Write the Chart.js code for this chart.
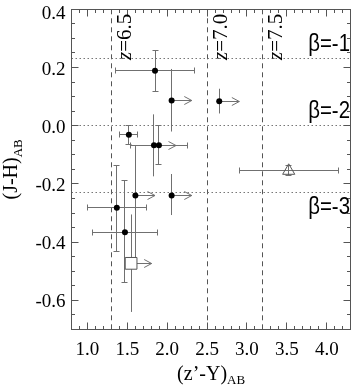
<!DOCTYPE html>
<html><head><meta charset="utf-8">
<script src="https://cdn.jsdelivr.net/npm/chart.js@4.4.0/dist/chart.umd.min.js"></script>
<style>html,body{margin:0;padding:0;background:#fff;}#wrap{width:360px;height:385px;position:relative;}</style>
</head><body><div id="wrap"><canvas id="c" width="360" height="385"></canvas></div>
<script>
// ---- data: filled circles (detections) ----
const detX    = [1.847, 2.055, 1.519, 1.834, 1.896, 1.601, 2.055, 1.368, 1.470, 2.652];
const detY    = [0.189, 0.087, -0.031, -0.067, -0.067, -0.240, -0.240, -0.282, -0.366, 0.084];
const detXLo  = [1.347, null, 1.405, 1.540, null, null, null, 1.000, 1.061, null];
const detXHi  = [2.337, null, 1.633, 2.255, null, null, null, 1.736, 1.879, null];
const detYLo  = [0.116, -0.020, -0.065, -0.174, -0.135, -0.454, -0.307, -0.431, -0.539, 0.042];
const detYHi  = [0.260, 0.195, -0.001, 0.039, -0.001, -0.070, -0.166, -0.138, -0.189, 0.127];
const detLimitTo = [null, 2.308, null, null, 2.11, 1.847, 2.308, null, null, 2.904];
// ---- open square ----
const sqX = [1.547], sqY = [-0.473], sqYLo = [-0.640], sqYHi = [-0.305], sqLimitTo = [1.805];
// ---- open triangle ----
const triX = [3.523], triY = [-0.155], triXLo = [2.902], triXHi = [4.145], triYLo = [-0.172], triYHi = [-0.138];
// ---- reference lines ----
const redshiftX = [1.3, 2.5, 3.2];
const redshiftLabels = ['6.5', '7.0', '7.5'];
const betaY = [0.23, 0.0, -0.23];
const betaLabels = ['β=-1', 'β=-2', 'β=-3'];
// ---- axes ----
const xTicks = [1.0, 1.5, 2.0, 2.5, 3.0, 3.5, 4.0];
const yTicks = [-0.6, -0.4, -0.2, 0.0, 0.2, 0.4];
const xTitle = '(z’-Y)', xTitleSub = 'AB';
const yTitle = '(J-H)', yTitleSub = 'AB';

// style-only settings
const capXIdx = [0, 2, 3, 7, 8];
const capYIdx = [0, 2, 4, 7, 8];
const SERIF = '"Liberation Serif", "Times New Roman", serif';
const SANS = '"Liberation Sans", Arial, sans-serif';
const ERR = '#707070';

function seg(ctx, x1, y1, x2, y2) { ctx.beginPath(); ctx.moveTo(x1, y1); ctx.lineTo(x2, y2); ctx.stroke(); }
const r5 = v => Math.round(v - 0.5) + 0.5;

const overlay = {
  id: 'overlay',
  beforeDatasetsDraw(chart) {
    const { ctx, chartArea: a, scales: { x, y } } = chart;
    const X = v => x.getPixelForValue(v), Y = v => y.getPixelForValue(v);
    ctx.save();
    ctx.lineWidth = 1;
    // dashed redshift lines
    ctx.strokeStyle = '#555'; ctx.setLineDash([5, 4]);
    redshiftX.forEach(v => { const px = r5(X(v)); seg(ctx, px, a.top, px, a.bottom); });
    // dotted beta lines
    ctx.strokeStyle = '#777'; ctx.setLineDash([1.5, 2.5]);
    betaY.forEach(v => { const py = r5(Y(v)); seg(ctx, a.left, py, a.right, py); });
    ctx.setLineDash([]);
    // error bars
    ctx.strokeStyle = ERR;
    const xbar = (lo, hi, yv, cap) => {
      const py = r5(Y(yv)), x1 = X(lo), x2 = X(hi);
      seg(ctx, x1, py, x2, py);
      if (cap) { seg(ctx, r5(x1), py - 3, r5(x1), py + 3); seg(ctx, r5(x2), py - 3, r5(x2), py + 3); }
    };
    const ybar = (xv, lo, hi, cap) => {
      const px = r5(X(xv)), y1 = Y(lo), y2 = Y(hi);
      seg(ctx, px, y1, px, y2);
      if (cap) { seg(ctx, px - 3, r5(y1), px + 3, r5(y1)); seg(ctx, px - 3, r5(y2), px + 3, r5(y2)); }
    };
    const arrow = (x0, x1, yv) => {
      const py = r5(Y(yv)), p0 = X(x0), p1 = X(x1);
      seg(ctx, p0, py, p1, py);
      seg(ctx, p1, py, p1 - 7.5, py - 4); seg(ctx, p1, py, p1 - 7.5, py + 4);
    };
    detX.forEach((xv, i) => {
      if (detXLo[i] !== null) xbar(detXLo[i], detXHi[i], detY[i], capXIdx.includes(i));
      if (detYLo[i] !== null) ybar(xv, detYLo[i], detYHi[i], capYIdx.includes(i));
      if (detLimitTo[i] !== null) arrow(xv, detLimitTo[i], detY[i]);
    });
    sqX.forEach((xv, i) => { ybar(xv, sqYLo[i], sqYHi[i], false); arrow(xv, sqLimitTo[i], sqY[i]); });
    triX.forEach((xv, i) => { xbar(triXLo[i], triXHi[i], triY[i], true); ybar(xv, triYLo[i], triYHi[i], true); });
    ctx.restore();
  },
  afterDraw(chart) {
    const { ctx, chartArea: a, scales: { x, y } } = chart;
    const X = v => x.getPixelForValue(v), Y = v => y.getPixelForValue(v);
    ctx.save();
    // frame
    ctx.strokeStyle = '#555'; ctx.lineWidth = 1;
    const L = r5(a.left), R = r5(a.right), T = r5(a.top), B = r5(a.bottom);
    ctx.strokeRect(L, T, R - L, B - T);
    // x ticks (inward, top and bottom)
    for (let k = 8; k <= 43; k++) {
      const v = k / 10, px = r5(X(v)), len = (k % 5 === 0) ? 7 : 3.5;
      seg(ctx, px, B, px, B - len); seg(ctx, px, T, px, T + len);
    }
    // y ticks (inward, left and right)
    for (let k = -14; k <= 8; k++) {
      const v = k / 20, py = r5(Y(v)), len = (k % 4 === 0) ? 7 : 3.5;
      seg(ctx, L, py, L + len, py); seg(ctx, R, py, R - len, py);
    }
    // y tick labels
    ctx.fillStyle = '#000'; ctx.font = '19px ' + SERIF;
    ctx.textAlign = 'right'; ctx.textBaseline = 'alphabetic';
    y.ticks.forEach(t => {
      const py = Math.max(Y(t.value) + 7, 19);
      ctx.fillText(t.value.toFixed(1), 65.5, py);
    });
    // redshift labels (rotated)
    redshiftX.forEach((v, i) => {
      ctx.save();
      ctx.translate(X(v) + 19.5, 60);
      ctx.rotate(-Math.PI / 2);
      ctx.textAlign = 'left';
      ctx.font = 'italic 21px ' + SERIF;
      ctx.fillText('z', 0, 0);
      const w = ctx.measureText('z').width;
      ctx.font = '21px ' + SERIF;
      ctx.fillText('=' + redshiftLabels[i], w, 0);
      ctx.restore();
    });
    // beta labels
    const betaOff = [-8, -7.5, 21];
    betaY.forEach((v, i) => {
      ctx.save();
      ctx.translate(350, Y(v) + betaOff[i]);
      ctx.scale(0.85, 1);
      ctx.font = '24px ' + SANS; ctx.textAlign = 'right';
      ctx.fillText(betaLabels[i], 0, 0);
      ctx.restore();
    });
    // x title
    ctx.textAlign = 'left';
    ctx.font = '20px ' + SERIF; const w1 = ctx.measureText(xTitle).width;
    ctx.font = '13px ' + SERIF; const w2 = ctx.measureText(xTitleSub).width;
    const cx = (a.left + a.right) / 2, sx = cx - (w1 + w2) / 2;
    ctx.font = '20px ' + SERIF; ctx.fillText(xTitle, sx, 379.5);
    ctx.font = '13px ' + SERIF; ctx.fillText(xTitleSub, sx + w1, 384);
    // y title
    ctx.font = '20px ' + SERIF; const v1 = ctx.measureText(yTitle).width;
    ctx.font = '13px ' + SERIF; const v2 = ctx.measureText(yTitleSub).width;
    const cy = (a.top + a.bottom) / 2;
    ctx.save();
    ctx.translate(17, cy + (v1 + v2) / 2);
    ctx.rotate(-Math.PI / 2);
    ctx.font = '20px ' + SERIF; ctx.fillText(yTitle, 0, 0);
    ctx.font = '13px ' + SERIF; ctx.fillText(yTitleSub, v1, 4.5);
    ctx.restore();
    ctx.restore();
  }
};

new Chart(document.getElementById('c'), {
  type: 'scatter',
  data: {
    datasets: [
      { data: detX.map((v, i) => ({ x: v, y: detY[i] })), pointRadius: 3, pointBackgroundColor: '#000', pointBorderColor: '#000', pointBorderWidth: 0 },
      { data: sqX.map((v, i) => ({ x: v, y: sqY[i] })), pointStyle: 'rect', pointRadius: 8.3, pointBackgroundColor: '#fff', pointBorderColor: '#555', pointBorderWidth: 1 },
      { data: triX.map((v, i) => ({ x: v, y: triY[i] })), pointStyle: 'triangle', pointRadius: 7, pointBackgroundColor: 'rgba(0,0,0,0)', pointBorderColor: '#555', pointBorderWidth: 1 }
    ]
  },
  options: {
    responsive: false, animation: false, events: [],
    layout: { padding: { top: 4, right: 3, left: 0, bottom: 0 } },
    plugins: { legend: { display: false }, tooltip: { enabled: false } },
    scales: {
      x: {
        type: 'linear', min: 0.8, max: 4.3, position: 'bottom',
        afterBuildTicks: s => { s.ticks = xTicks.map(v => ({ value: v })); },
        ticks: { font: { family: SERIF, size: 19 }, color: '#000', padding: 9, maxRotation: 0, autoSkip: false, callback: v => Number(v).toFixed(1) },
        grid: { display: false, drawTicks: false }, border: { display: false },
        afterFit: s => { s.height = 55.6; s.paddingLeft = 0; s.paddingRight = 0; }
      },
      y: {
        type: 'linear', min: -0.7, max: 0.4, position: 'left',
        afterBuildTicks: s => { s.ticks = yTicks.map(v => ({ value: v })); },
        ticks: { display: false },
        grid: { display: false, drawTicks: false }, border: { display: false },
        afterFit: s => { s.width = 71.5; s.paddingTop = 0; s.paddingBottom = 0; }
      }
    }
  },
  plugins: [overlay]
});
</script>
</body></html>
